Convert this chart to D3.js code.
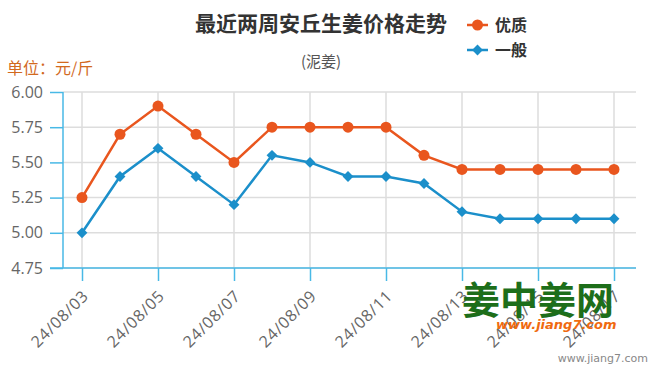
<!DOCTYPE html>
<html>
<head>
<meta charset="utf-8">
<script src="https://cdn.jsdelivr.net/npm/d3@7"></script>
<style>
  body { margin: 0; background: #fff; }
  svg { font-family: "Noto Sans CJK SC", "DejaVu Sans", sans-serif; }
</style>
</head>
<body>
<svg id="chart" width="650" height="372"></svg>
<script>
var dates = ['24/08/03', '24/08/04', '24/08/05', '24/08/06', '24/08/07', '24/08/08', '24/08/09',
    '24/08/10', '24/08/11', '24/08/12', '24/08/13', '24/08/14', '24/08/15', '24/08/16', '24/08/17'];
var youzhi = [5.25, 5.70, 5.90, 5.70, 5.50, 5.75, 5.75, 5.75, 5.75, 5.55, 5.45, 5.45, 5.45, 5.45, 5.45];
var yiban = [5.00, 5.40, 5.60, 5.40, 5.20, 5.55, 5.50, 5.40, 5.40, 5.35, 5.15, 5.10, 5.10, 5.10, 5.10];
var yTicks = [4.75, 5.00, 5.25, 5.50, 5.75, 6.00];

var orange = '#e9561e';
var blue = '#1b8fca';
var axisBlue = '#48b9e6';

var svg = d3.select('#chart');
var plotLeft = 63, plotRight = 633, plotTop = 92, plotBottom = 268;

var x = d3.scalePoint().domain(dates).range([plotLeft, plotRight]).padding(0.5);
var y = d3.scaleLinear().domain([4.75, 6.00]).range([plotBottom, plotTop]);

// horizontal grid
svg.append('g').selectAll('line')
    .data(yTicks).enter().append('line')
    .attr('x1', plotLeft).attr('x2', 636)
    .attr('y1', d => y(d)).attr('y2', d => y(d))
    .attr('stroke', '#ddd').attr('stroke-width', 1.5);

// vertical grid (every other day)
var shown = dates.filter((d, i) => i % 2 == 0);
svg.append('g').selectAll('line')
    .data(shown).enter().append('line')
    .attr('x1', d => x(d)).attr('x2', d => x(d))
    .attr('y1', plotTop).attr('y2', plotBottom)
    .attr('stroke', '#ddd').attr('stroke-width', 1.5);

// y axis
var yAxis = svg.append('g')
    .attr('transform', 'translate(' + plotLeft + ',0)')
    .call(d3.axisLeft(y).tickValues(yTicks).tickFormat(d3.format('.2f')).tickSize(13).tickPadding(7));
yAxis.select('.domain').remove();
yAxis.append('line').attr('x1', 0).attr('x2', 0).attr('y1', plotTop).attr('y2', plotBottom)
    .attr('stroke', axisBlue).attr('stroke-width', 1.5);
yAxis.selectAll('.tick line').attr('stroke', axisBlue).attr('stroke-width', 1.5);
yAxis.selectAll('.tick text').attr('fill', '#666').style('font-size', '16px')
    .style('font-family', '"Open Sans", "DejaVu Sans", sans-serif');

// x axis
var xAxis = svg.append('g')
    .attr('transform', 'translate(0,' + plotBottom + ')')
    .call(d3.axisBottom(x).tickValues(shown).tickSize(13).tickPadding(6));
xAxis.select('.domain').remove();
xAxis.append('line').attr('x1', 50).attr('x2', 636).attr('y1', 0).attr('y2', 0)
    .attr('stroke', axisBlue).attr('stroke-width', 1.5);
xAxis.selectAll('.tick line').attr('stroke', axisBlue).attr('stroke-width', 1.5);
xAxis.selectAll('.tick text')
    .attr('fill', '#666').style('font-size', '16px')
    .style('letter-spacing', '0.8px')
    .style('font-family', '"Open Sans", "DejaVu Sans", sans-serif')
    .attr('text-anchor', 'end')
    .attr('dy', '0.35em')
    .attr('y', 0)
    .attr('transform', 'translate(3,25) rotate(-45)');

// series
var line = d3.line().x((d, i) => x(dates[i])).y(d => y(d));

svg.append('path').datum(youzhi)
    .attr('d', line).attr('fill', 'none')
    .attr('stroke', orange).attr('stroke-width', 2.5);
svg.append('g').selectAll('circle')
    .data(youzhi).enter().append('circle')
    .attr('cx', (d, i) => x(dates[i])).attr('cy', d => y(d))
    .attr('r', 5.5).attr('fill', orange);

var diamond = d3.symbol().type(d3.symbolDiamond2).size(75);
svg.append('path').datum(yiban)
    .attr('d', line).attr('fill', 'none')
    .attr('stroke', blue).attr('stroke-width', 2.5);
svg.append('g').selectAll('path')
    .data(yiban).enter().append('path')
    .attr('d', diamond)
    .attr('transform', (d, i) => 'translate(' + x(dates[i]) + ',' + y(d) + ')')
    .attr('fill', blue);

// title
svg.append('text').attr('x', 321).attr('y', 31).attr('text-anchor', 'middle')
    .attr('fill', '#333').style('font-size', '21px').style('font-weight', 'bold')
    .text('最近两周安丘生姜价格走势');
svg.append('text').attr('x', 321).attr('y', 67).attr('text-anchor', 'middle')
    .attr('fill', '#555').style('font-size', '15px')
    .text('(泥姜)');
svg.append('text').attr('x', 7).attr('y', 74)
    .attr('fill', '#d2691e').style('font-size', '16px')
    .text('单位：元/斤');

// legend
var legend = [['优质', orange, 'circle'], ['一般', blue, 'diamond']];
legend.forEach(function (l, i) {
    var g = svg.append('g').attr('transform', 'translate(467,' + (25 + i * 25) + ')');
    g.append('line').attr('x1', 0).attr('x2', 21).attr('stroke', l[1]).attr('stroke-width', 2.5);
    if (l[2] == 'circle') {
        g.append('circle').attr('cx', 10.5).attr('r', 5.5).attr('fill', l[1]);
    } else {
        g.append('path').attr('d', diamond).attr('transform', 'translate(10.5,0)').attr('fill', l[1]);
    }
    g.append('text').attr('x', 28).attr('y', 6).attr('fill', '#333')
        .style('font-size', '16px').style('font-weight', 'bold').text(l[0]);
});

// watermark
svg.append('text').attr('x', 462).attr('y', 314).attr('fill', '#1d6e1a')
    .style('font-size', '38px').style('font-weight', 'bold')
    .text('姜中姜网');
svg.append('text').attr('x', 496).attr('y', 329).attr('fill', '#f06a0f')
    .style('font-size', '13px').style('font-weight', 'bold').style('font-style', 'italic')
    .style('font-family', '"DejaVu Sans", sans-serif')
    .text('www.jiang7.com');
svg.append('text').attr('x', 648).attr('y', 362).attr('text-anchor', 'end')
    .attr('fill', '#888').style('font-size', '11px')
    .style('font-family', '"DejaVu Sans", sans-serif')
    .text('www.jiang7.com');
</script>
</body>
</html>
